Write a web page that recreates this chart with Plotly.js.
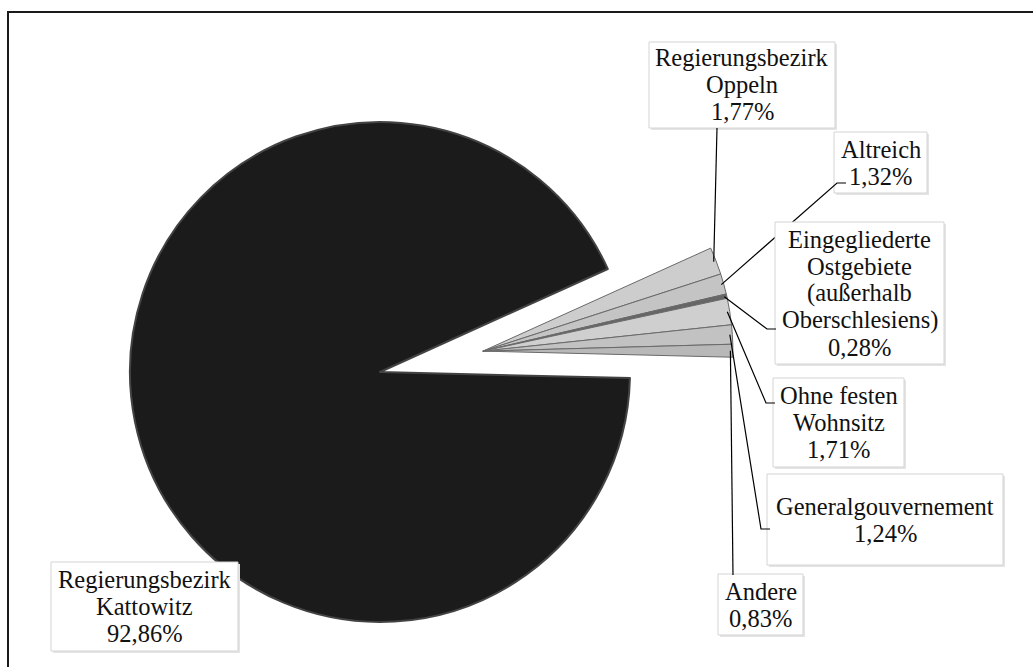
<!DOCTYPE html>
<html>
<head>
<meta charset="utf-8">
<script src="https://cdn.plot.ly/plotly-3.0.1.min.js"></script>
<style>
  html, body { margin: 0; padding: 0; background: #ffffff; overflow: hidden; }
  #chart { width: 1033px; height: 667px; }
</style>
</head>
<body>
<div id="chart"></div>
<script>
// Herkunft (Wohnsitz) – Anteile in Prozent
const categories = [
  'Regierungsbezirk Kattowitz',
  'Regierungsbezirk Oppeln',
  'Altreich',
  'Eingegliederte Ostgebiete (außerhalb Oberschlesiens)',
  'Ohne festen Wohnsitz',
  'Generalgouvernement',
  'Andere'
];
const shares = [92.86, 1.77, 1.32, 0.28, 1.71, 1.24, 0.83];
const labelLines = [
  ['Regierungsbezirk', 'Kattowitz'],
  ['Regierungsbezirk', 'Oppeln'],
  ['Altreich'],
  ['Eingegliederte', 'Ostgebiete', '(außerhalb', 'Oberschlesiens)'],
  ['Ohne festen', 'Wohnsitz'],
  ['Generalgouvernement'],
  ['Andere']
];

// Styling
const sliceColors = ['#1b1b1b', '#cdcdcd', '#c4c4c4', '#666666', '#cfcfcf', '#c2c2c2', '#b8b8b8'];
const W = 1033, H = 667;
const FONT = { family: '"Liberation Serif", "Times New Roman", Times, serif', size: 24.5, color: '#111111' };
const LINE_GAP = 27;

// Label boxes [x0, y0, x1, y1] in pixels, and leader-line bends
const boxes = [
  [51, 562, 238, 651],
  [649, 42, 835, 128],
  [834, 132, 927, 193],
  [775, 222, 944, 364],
  [773, 378, 904, 467],
  [767, 474, 1003, 565],
  [718, 574, 803, 635]
];
const leaderBends = [
  null,
  [[717, 128]],
  [[837, 183], [846, 183]],
  [[767, 329], [776, 329]],
  [[766, 403], [775, 403]],
  [[761, 529], [770, 529]],
  [[733, 575]]
];

// Pie geometry (pixels)
const center = [380, 372];
const radius = 250;
const rotation = 91.4;    // first slice starts just below 3 o'clock
const explode = 0.42;     // small slices pulled out together, fraction of radius

const px = x => x / W;
const py = y => 1 - y / H;

const total = shares.reduce((a, b) => a + b, 0);
const smallSum = total - shares[0];

// common apex of the exploded group, along the bisector of the gap
const bisector = (rotation + 360 * (shares[0] + smallSum / 2) / total) * Math.PI / 180;
const apex = [
  center[0] + explode * radius * Math.sin(bisector),
  center[1] - explode * radius * Math.cos(bisector)
];

function domainFor(c) {
  return {
    x: [px(c[0] - radius), px(c[0] + radius)],
    y: [py(c[1] + radius), py(c[1] - radius)]
  };
}

const clear = 'rgba(0,0,0,0)';

const mainPie = {
  type: 'pie',
  values: shares,
  labels: categories,
  sort: false,
  direction: 'clockwise',
  rotation: rotation,
  textinfo: 'none',
  hoverinfo: 'none',
  domain: domainFor(center),
  marker: {
    colors: sliceColors.map((c, i) => i === 0 ? c : clear),
    line: {
      color: shares.map((v, i) => i === 0 ? '#434343' : clear),
      width: shares.map((v, i) => i === 0 ? 2 : 0)
    }
  }
};

const explodedPie = {
  type: 'pie',
  values: shares,
  labels: categories,
  sort: false,
  direction: 'clockwise',
  rotation: rotation,
  textinfo: 'none',
  hoverinfo: 'none',
  domain: domainFor(apex),
  marker: {
    colors: sliceColors.map((c, i) => i === 0 ? clear : c),
    line: {
      color: shares.map((v, i) => i === 0 ? clear : '#6a6a6a'),
      width: shares.map((v, i) => i === 0 ? 0 : 1)
    }
  }
};

// anchor point of a leader line: middle of the slice's outer edge
function sliceAnchor(i) {
  let before = 0;
  for (let k = 0; k < i; k++) before += shares[k];
  const a = (rotation + 360 * (before + shares[i] / 2) / total) * Math.PI / 180;
  const r = radius * 0.99;
  return [apex[0] + r * Math.sin(a), apex[1] - r * Math.cos(a)];
}

const shapes = [];
const annotations = [];

// frame
shapes.push({
  type: 'rect', xref: 'paper', yref: 'paper', layer: 'above',
  x0: px(8), x1: px(W + 20), y0: py(H + 20), y1: py(12),
  line: { color: '#1a1a1a', width: 2 }, fillcolor: clear
});

categories.forEach((name, i) => {
  const b = boxes[i];
  // soft shadow + box
  shapes.push({
    type: 'rect', xref: 'paper', yref: 'paper', layer: 'above',
    x0: px(b[0] + 2), x1: px(b[2] + 2), y0: py(b[3] + 2), y1: py(b[1] + 2),
    line: { width: 0 }, fillcolor: '#e4e4e4'
  });
  shapes.push({
    type: 'rect', xref: 'paper', yref: 'paper', layer: 'above',
    x0: px(b[0]), x1: px(b[2]), y0: py(b[3]), y1: py(b[1]),
    line: { color: '#d4d4d4', width: 1 }, fillcolor: '#ffffff'
  });

  // leader line
  if (leaderBends[i]) {
    const pts = [sliceAnchor(i)].concat(leaderBends[i]);
    const path = pts.map((p, k) => (k ? 'L' : 'M') + px(p[0]).toFixed(5) + ',' + py(p[1]).toFixed(5)).join(' ');
    shapes.push({
      type: 'path', xref: 'paper', yref: 'paper', layer: 'above',
      path: path, line: { color: '#000000', width: 1.2 }
    });
  }

  // text lines
  const lines = labelLines[i].concat([shares[i].toFixed(2).replace('.', ',') + '%']);
  const cx = (b[0] + b[2]) / 2;
  const cy = (b[1] + b[3]) / 2;
  lines.forEach((t, k) => {
    const y = cy + (k - (lines.length - 1) / 2) * LINE_GAP;
    annotations.push({
      xref: 'paper', yref: 'paper', x: px(cx), y: py(y),
      xanchor: 'center', yanchor: 'middle',
      text: t, showarrow: false, font: FONT
    });
  });
});

const layout = {
  width: W, height: H,
  margin: { l: 0, r: 0, t: 0, b: 0 },
  paper_bgcolor: '#ffffff',
  plot_bgcolor: '#ffffff',
  showlegend: false,
  font: FONT,
  shapes: shapes,
  annotations: annotations
};

Plotly.newPlot('chart', [mainPie, explodedPie], layout, { displayModeBar: false, staticPlot: true });
</script>
</body>
</html>
